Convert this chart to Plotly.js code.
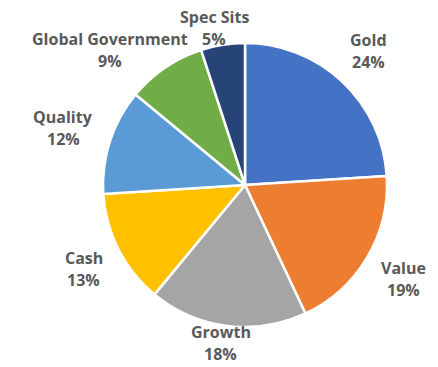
<!DOCTYPE html>
<html><head><meta charset="utf-8">
<script src="https://cdn.plot.ly/plotly-3.0.1.min.js"></script>
<style>html,body{margin:0;padding:0;background:#fff;}#chart{width:438px;height:367px;}</style>
</head><body><div id="chart"></div>
<script>
const categories = ["Gold", "Value", "Growth", "Cash", "Quality", "Global Government", "Spec Sits"];
const values = [24, 19, 18, 13, 12, 9, 5];
const colors = ["#4472C4", "#ED7D31", "#A5A5A5", "#FFC000", "#5B9BD5", "#70AD47", "#264478"];

const W = 438, H = 367;
const cx = 245, cy = 185, R = 142;
const FONT = "'Open Sans', Lato, sans-serif";
const FS = 16;
const LINE_H = 22;

const trace = {
  type: "pie",
  labels: categories,
  values: values,
  sort: false,
  direction: "clockwise",
  rotation: 0,
  marker: {colors: colors, line: {color: "#ffffff", width: 2.5}},
  textinfo: "none",
  domain: {x: [(cx - R) / W, (cx + R) / W], y: [(H - cy - R) / H, (H - cy + R) / H]},
  hoverinfo: "none"
};

// label placement (outside end, like the original), derived from slice mid-angles
const total = values.reduce((a, b) => a + b, 0);
const ctx = document.createElement("canvas").getContext("2d");
ctx.font = "bold " + FS + "px " + FONT;
let cum = 0;
const boxes = categories.map((c, i) => {
  const pct = Math.round(values[i] / total * 100) + "%";
  const mid = (cum + values[i] / 2) / total * 2 * Math.PI;
  cum += values[i];
  const s = Math.sin(mid), co = Math.cos(mid);
  const w = Math.max(ctx.measureText(c).width, ctx.measureText(pct).width);
  const h = 2 * LINE_H;
  let x = cx + R * s + s * (w / 2 + 20);
  let y = cy - R * co - co * (h / 2 + 20);
  y = Math.max(h / 2 + 6, Math.min(H - h / 2 - 2, y));
  return {c, pct, x, y, w, h, s};
});
// simple overlap resolution: move the more sideways label vertically away
for (let iter = 0; iter < 5; iter++) {
  for (let i = 0; i < boxes.length; i++) for (let j = i + 1; j < boxes.length; j++) {
    const a = boxes[i], b = boxes[j];
    const ox = (a.w + b.w) / 2 + 6 - Math.abs(a.x - b.x);
    const need = (a.h + b.h) / 2 - LINE_H;
    const oy = need - Math.abs(a.y - b.y);
    if (ox > 0 && oy > 0) {
      const m = Math.abs(a.s) > Math.abs(b.s) ? a : b;
      const other = m === a ? b : a;
      m.y += (m.y >= other.y ? 1 : -1) * oy;
    }
  }
}
const annotations = [];
boxes.forEach(b => {
  [[b.c, b.y - LINE_H / 2], [b.pct, b.y + LINE_H / 2]].forEach(([t, yy]) => {
    annotations.push({
      xref: "paper", yref: "paper", x: b.x / W, y: 1 - yy / H,
      xanchor: "center", yanchor: "middle", showarrow: false, text: t,
      font: {family: FONT, size: FS, color: "#595959", weight: "bold"}
    });
  });
});

Plotly.newPlot("chart", [trace], {
  width: W, height: H,
  margin: {l: 0, r: 0, t: 0, b: 0},
  showlegend: false,
  annotations: annotations,
  paper_bgcolor: "#ffffff",
  plot_bgcolor: "#ffffff"
}, {displayModeBar: false, staticPlot: true});
</script></body></html>
